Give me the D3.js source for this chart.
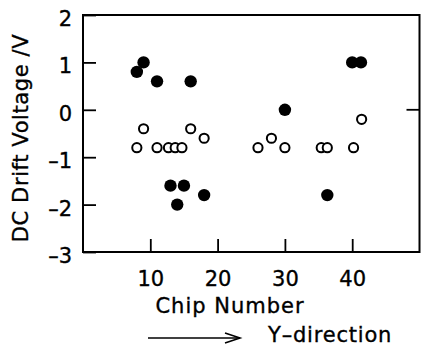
<!DOCTYPE html>
<html>
<head>
<meta charset="utf-8">
<script src="https://cdn.jsdelivr.net/npm/d3@7"></script>
<style>
  html, body { margin: 0; padding: 0; background: #fff; }
  svg { display: block; }
  text { font-family: "DejaVu Sans", sans-serif; fill: #000; stroke: #000; stroke-width: 0.35px; }
</style>
</head>
<body>
<svg id="chart" width="421" height="351"></svg>
<script>
// DC drift voltage per chip, two measurement sets
const filledChip = [8, 9, 11, 16, 13, 15, 14, 18, 30, 36.3, 40, 41.3];
const filledVolt = [0.8, 1.0, 0.6, 0.6, -1.6, -1.6, -2.0, -1.8, 0.0, -1.8, 1.0, 1.0];
const openChip = [8, 9, 11, 12.7, 13.7, 14.7, 16, 18, 26, 28, 30, 35.4, 36.3, 40.2, 41.4];
const openVolt = [-0.8, -0.4, -0.8, -0.8, -0.8, -0.8, -0.4, -0.6, -0.8, -0.6, -0.8, -0.8, -0.8, -0.8, -0.2];
const xTicks = [10, 20, 30, 40];
const yTicks = [2, 1, 0, -1, -2, -3];

const svg = d3.select("#chart");
const plotLeft = 83, plotRight = 419.5, plotTop = 15, plotBottom = 252;

const x = d3.scaleLinear().domain([0, 50]).range([plotLeft, plotRight]);
const y = d3.scaleLinear().domain([-3, 2]).range([plotBottom, plotTop]);

const fmt = d => (d < 0 ? "\u2013" + Math.abs(d) : String(d));

// bottom axis: ticks point into the plot
const xAxis = d3.axisBottom(x).tickValues(xTicks).tickSizeInner(-13).tickSizeOuter(0);
const gx = svg.append("g").attr("transform", `translate(0,${plotBottom})`).call(xAxis);
gx.select(".domain").remove();
gx.selectAll(".tick line").attr("stroke", "#000").attr("stroke-width", 1.8);
gx.selectAll(".tick text").attr("font-size", 21).attr("dy", "0.71em").attr("y", 19).attr("fill", "#000");

// left axis: inward ticks
const yAxis = d3.axisLeft(y).tickValues(yTicks).tickFormat(fmt).tickSizeInner(-13).tickSizeOuter(0);
const gy = svg.append("g").attr("transform", `translate(${plotLeft},0)`).call(yAxis);
gy.select(".domain").remove();
gy.selectAll(".tick line").attr("stroke", "#000").attr("stroke-width", 1.8);
gy.selectAll(".tick text").attr("font-size", 21).attr("x", -11).attr("dy", "0.5em").attr("fill", "#000");

// right side: a single inward tick at zero
svg.append("line")
  .attr("x1", plotRight).attr("x2", plotRight - 13)
  .attr("y1", y(0)).attr("y2", y(0))
  .attr("stroke", "#000").attr("stroke-width", 1.8);

// frame
svg.append("rect")
  .attr("x", plotLeft).attr("y", plotTop)
  .attr("width", plotRight - plotLeft).attr("height", plotBottom - plotTop)
  .attr("fill", "none").attr("stroke", "#000").attr("stroke-width", 2);

// open circles
svg.append("g").selectAll("circle")
  .data(openChip.map((c, i) => [c, openVolt[i]]))
  .join("circle")
  .attr("cx", d => x(d[0])).attr("cy", d => y(d[1]))
  .attr("r", 4.6)
  .attr("fill", "#fff").attr("stroke", "#000").attr("stroke-width", 2);

// filled circles
svg.append("g").selectAll("circle")
  .data(filledChip.map((c, i) => [c, filledVolt[i]]))
  .join("circle")
  .attr("cx", d => x(d[0])).attr("cy", d => y(d[1]))
  .attr("r", 6.2)
  .attr("fill", "#000");

// axis titles
svg.append("text")
  .attr("x", 230).attr("y", 313)
  .attr("text-anchor", "middle")
  .attr("font-size", 21).attr("letter-spacing", 1)
  .text("Chip Number");

svg.append("text")
  .attr("transform", "translate(28,138) rotate(-90)")
  .attr("text-anchor", "middle")
  .attr("font-size", 21).attr("letter-spacing", 0.6)
  .text("DC Drift Voltage /V");

// direction arrow
svg.append("line")
  .attr("x1", 148).attr("x2", 240).attr("y1", 338).attr("y2", 338)
  .attr("stroke", "#000").attr("stroke-width", 1.6);
svg.append("path")
  .attr("d", "M225,333 L240,338 L225,343")
  .attr("fill", "none").attr("stroke", "#000").attr("stroke-width", 1.6);

svg.append("text")
  .attr("x", 268).attr("y", 342)
  .attr("font-size", 21).attr("letter-spacing", 0.8)
  .text("Y\u2013direction");
</script>
</body>
</html>
